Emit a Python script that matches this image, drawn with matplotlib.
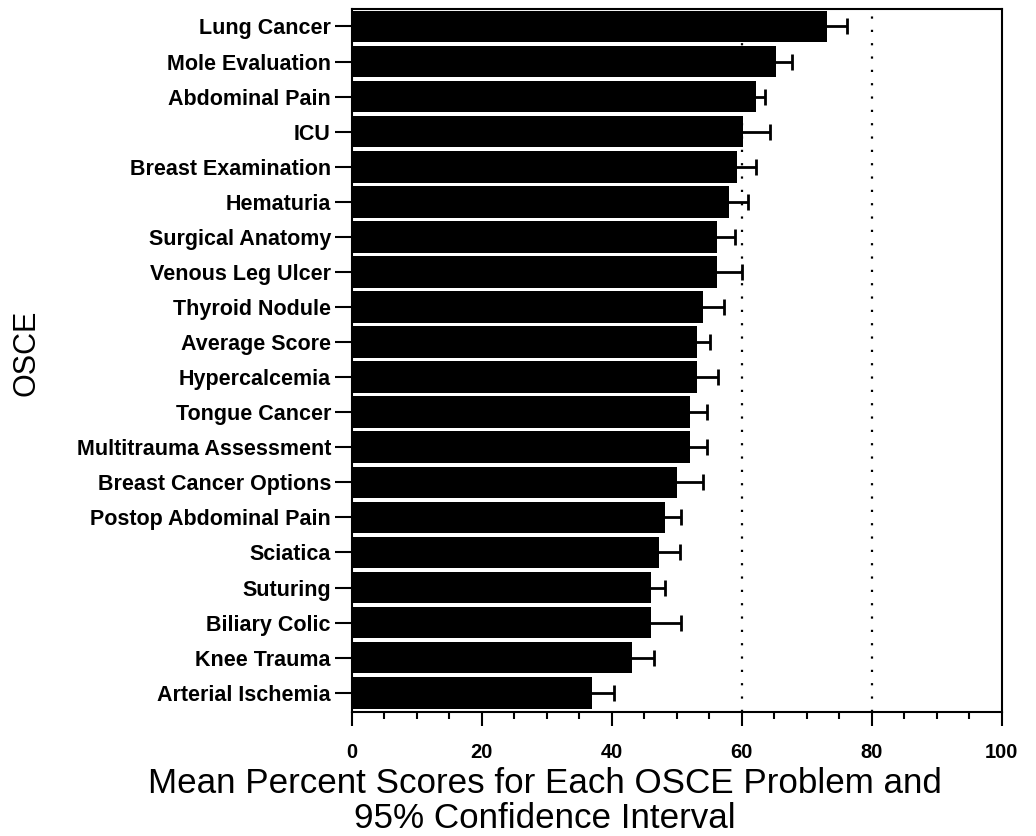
import matplotlib
matplotlib.use("Agg")
import matplotlib.pyplot as plt
from matplotlib.ticker import MultipleLocator

plt.rcParams['font.family'] = ['Liberation Sans', 'DejaVu Sans']

problems = [
    "Lung Cancer", "Mole Evaluation", "Abdominal Pain", "ICU",
    "Breast Examination", "Hematuria", "Surgical Anatomy", "Venous Leg Ulcer",
    "Thyroid Nodule", "Average Score", "Hypercalcemia", "Tongue Cancer",
    "Multitrauma Assessment", "Breast Cancer Options", "Postop Abdominal Pain",
    "Sciatica", "Suturing", "Biliary Colic", "Knee Trauma", "Arterial Ischemia",
]
mean_score = [73.1, 65.2, 62.2, 60.2, 59.2, 58.1, 56.2, 56.2, 54.1, 53.1,
              53.1, 52.1, 52.1, 50.1, 48.2, 47.2, 46.1, 46.1, 43.1, 37.0]
ci_halfwidth = [3.1, 2.6, 1.4, 4.1, 3.0, 2.8, 2.7, 3.8, 3.2, 2.0,
                3.3, 2.5, 2.6, 3.9, 2.5, 3.3, 2.1, 4.5, 3.4, 3.4]
reference_lines = [60, 80]

fig = plt.figure(figsize=(10.36, 8.36), dpi=100)
ax = fig.add_axes([0.3395, 0.1483, 0.6274, 0.8410])

pos = list(range(len(problems)))

for xv in reference_lines:
    ax.axvline(xv, color='black', linestyle=(0, (1, 5)), linewidth=1.6, zorder=1)

# confidence intervals sit behind the bars so only the upper half shows
ax.errorbar(mean_score, pos, xerr=ci_halfwidth, fmt='none',
            ecolor='black', elinewidth=2, capsize=6, capthick=2, zorder=2)
ax.barh(pos, mean_score, height=0.9, color='black', zorder=3)

ax.set_xlim(0, 100)
ax.set_ylim(len(problems) - 0.45, -0.5)
ax.set_yticks(pos)
ax.set_yticklabels(problems, fontsize=15.5, fontweight='bold')
ax.xaxis.set_major_locator(MultipleLocator(20))
ax.xaxis.set_minor_locator(MultipleLocator(5))
for lab in ax.get_xticklabels():
    lab.set_fontsize(14.5)
    lab.set_fontweight('bold')
ax.tick_params(axis='x', which='major', length=10, width=1.5, pad=12)
ax.tick_params(axis='x', which='minor', length=5, width=1.5)
ax.tick_params(axis='y', length=12, width=1.5, pad=3)
for sp in ax.spines.values():
    sp.set_linewidth(1.5)

fig.text(545 / 1036, 1 - 801 / 836,
         "Mean Percent Scores for Each OSCE Problem and\n95% Confidence Interval",
         fontsize=25.2, ha='center', va='center', linespacing=1.1)
fig.text(27 / 1036, 1 - 353 / 836, "OSCE", fontsize=22, rotation=90,
         ha='center', va='center')

fig.savefig("out.png", dpi=100)
